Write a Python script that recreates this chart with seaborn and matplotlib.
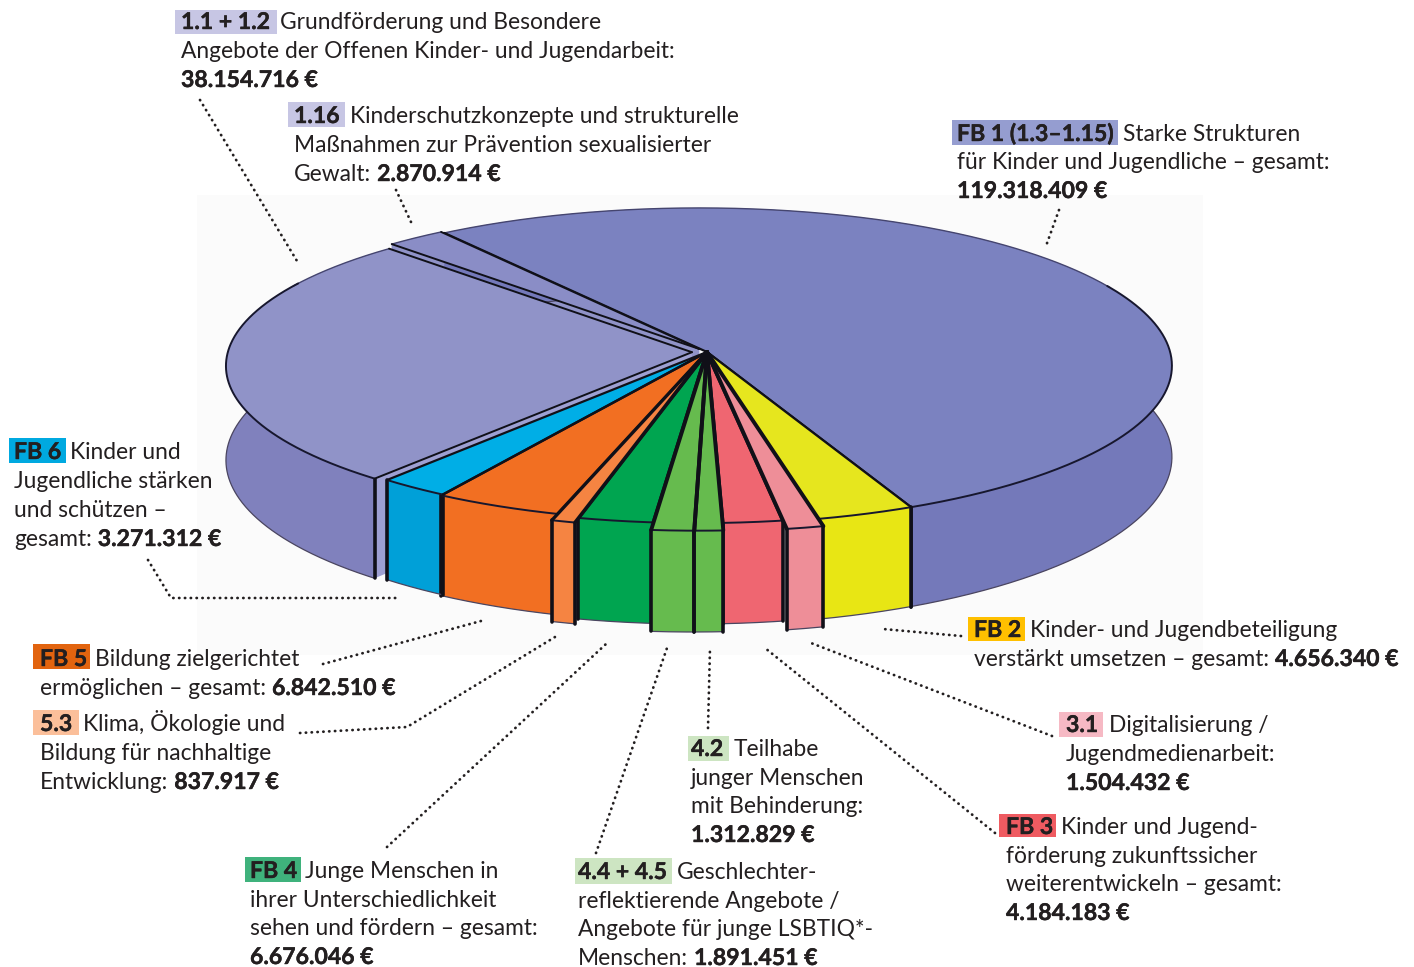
import numpy as np
import seaborn as sns
import matplotlib
matplotlib.use('Agg')
import matplotlib.pyplot as plt
import matplotlib.patheffects as pe
from matplotlib.patches import Polygon, Rectangle
from matplotlib.transforms import Transform

# Amounts printed in the labels (euro)
amount_1_1 = 38154716
amount_1_16 = 2870914
amount_fb1 = 119318409
amount_fb2 = 4656340
amount_3_1 = 1504432
amount_fb3 = 4184183
amount_4_2 = 1312829
amount_4_4 = 1891451
amount_fb4 = 6676046
amount_5_3 = 837917
amount_fb5 = 6842510
amount_fb6 = 3271312

# Slices clockwise, starting at the edge between 1.16 and FB 1.
# The picture does not draw them in proportion to the euros, so the sizes
# are the opening angles.
slice_names = ['FB 1', 'FB 2', '3.1', 'FB 3', '4.2', '4.4 + 4.5', 'FB 4', '5.3', 'FB 5', 'FB 6', '1.1 + 1.2', '1.16']
slice_angles = [192.6, 11.1, 4.0, 6.8, 3.1, 4.6, 8.5, 2.6, 14.6, 8.1, 95.9, 8.0]
slice_radius = [1.0, 1.0, 1.04, 0.995, 1.035, 1.035, 0.995, 1.02, 0.985, 0.98, 0.968, 0.985]
slice_explode = [0, 0, 0, 0, 0, 0, 0, 0, 0, 0, 0.032, 0.025]
top_colors = ['#7b82c0', '#e6e61e', '#ee8e98', '#ef6671', '#66bb4e', '#66bb4e', '#00a550', '#f58442', '#f26f22', '#00aee6', '#9093c8', '#8a8dc6']
side_colors = ['#7479ba', '#e8e614', '#ee8e98', '#ef6671', '#66bb4e', '#66bb4e', '#00a550', '#f58442', '#f26f22', '#00a0d8', '#8081bd', '#8a8dc6']
line_widths = [1.6, 1.6, 2.8, 2.8, 2.8, 2.8, 2.8, 2.4, 1.8, 1.6, 1.4, 1.4]

INK = '#231f20'
CX, CY = 707, 352
A, B = 471, 156.8
K, M = 0.0885, 0.017
DEPTH = 92


class Tilt(Transform):
    # unit disc of the pie to pixel positions of the tilted disc
    input_dims = 2
    output_dims = 2
    is_separable = False
    has_inverse = False

    def __init__(self, drop=0):
        super().__init__()
        self.drop = drop

    def transform_non_affine(self, values):
        values = np.asarray(values, dtype=float)
        u, v = values[:, 0], values[:, 1]
        w = 1 + K * v + M * u
        return np.column_stack([CX + A * u / w, CY - B * v / w + self.drop / w])


def euro(x):
    return f'{x:,}'.replace(',', '.') + ' €'


sns.set_theme(style='white')
plt.rcParams['font.family'] = ['Lato', 'DejaVu Sans']

fig = plt.figure(figsize=(14.14, 9.67), dpi=100)
ax = fig.add_axes([0, 0, 1, 1])

wedges, _ = ax.pie(slice_angles, colors=sns.color_palette(top_colors), startangle=126.3, counterclock=False,
                   explode=slice_explode, wedgeprops=dict(linewidth=0))
ax.set_aspect('auto')
ax.set_xlim(0, 1414)
ax.set_ylim(967, 0)
sns.despine(ax=ax, left=True, bottom=True)

ax.add_patch(Rectangle((197, 195), 1006, 460, facecolor='#fbfbfb', edgecolor='none', zorder=0))

top = Tilt(0)
bottom = Tilt(DEPTH)
# who covers whom: back and big slices first, pushed out slices last
z_of = {'1.16': 3, 'FB 1': 2, '1.1 + 1.2': 2.5, 'FB 6': 4, 'FB 5': 4, 'FB 4': 4, 'FB 3': 4, 'FB 2': 4,
        '5.3': 5, '4.2': 5, '4.4 + 4.5': 5, '3.1': 5}

for name, w, r, col, sc, lw in zip(slice_names, wedges, slice_radius, top_colors, side_colors, line_widths):
    z = z_of[name]
    w.set_radius(r)
    w.set_transform(top + ax.transData)
    w.set_zorder(z + 0.2)

    t = np.radians(np.linspace(w.theta1, w.theta2, 400))
    rim = np.column_stack([w.center[0] + r * np.cos(t), w.center[1] + r * np.sin(t)])
    mid = np.asarray(w.center)[None, :]
    rim_top = top.transform(rim)
    rim_low = bottom.transform(rim)

    # outer wall, the one of 1.16 stays hidden behind the top faces
    wall_z = 1 if name == '1.16' else z
    ax.add_patch(Polygon(np.vstack([rim_top, rim_low[::-1]]), facecolor=sc, edgecolor='none', zorder=wall_z))
    if name != '1.16':
        ax.plot(rim_low[:, 0], rim_low[:, 1], color='#4a4560', lw=0.9, zorder=wall_z + 0.1)

    # outlines of the top face: rim thin at the back, heavier at the front
    ax.plot(np.where(rim[:, 1] > 0.43, rim_top[:, 0], np.nan), rim_top[:, 1], color='#45456f', lw=1.0, zorder=z + 0.3)
    ax.plot(np.where(rim[:, 1] > 0.45, np.nan, rim_top[:, 0]), rim_top[:, 1], color='#17172e', lw=1.4, zorder=z + 0.3)
    for end in (rim[:1], rim[-1:]):
        ray = top.transform(np.vstack([mid, end]))
        ax.plot(ray[:, 0], ray[:, 1], color='#101018', lw=lw, zorder=z + 0.3, solid_capstyle='round')
        # edge of the wall, only on the near side
        if end[0, 1] < 0:
            a, b = top.transform(end)[0], bottom.transform(end)[0]
            ax.plot([a[0], b[0]], [a[1], b[1]], color='#101018', lw=2.6, zorder=z + 0.1)

    # cut faces that show because the slice is moved away from the centre
    if name == '1.1 + 1.2':
        c = rim[-1:]
        face = np.vstack([top.transform(c), bottom.transform(c), bottom.transform(mid), top.transform(mid)])
        ax.add_patch(Polygon(face, facecolor='#9ea0d2', edgecolor='none', zorder=z - 0.1))
    if name == '1.16':
        c = rim[-1:]
        face = np.vstack([top.transform(c), top.transform(mid), bottom.transform(mid), bottom.transform(c)])
        ax.add_patch(Polygon(face, facecolor='#9093c8', edgecolor='none', zorder=1.5))


def leader(*pts):
    xs, ys = zip(*pts)
    ax.plot(xs, ys, color=INK, lw=2, linestyle=(0, (0.1, 2.0)), dash_capstyle='round', zorder=8)


def words(x, y, s, bold=False):
    t = ax.text(x, y, s, fontsize=16.6 if bold else 16.35, color=INK, va='baseline', ha='left', zorder=10,
                fontweight='bold' if bold else 'normal')
    if bold:
        t.set_path_effects([pe.withStroke(linewidth=0.3, foreground=INK)])
    return t.get_window_extent(fig.canvas.get_renderer()).x1


def label(box, tx, y, tag, color, next_x, rest, pitch=29):
    # box = left, right, top, bottom of the highlight behind the tag
    ax.add_patch(Rectangle((box[0], box[2]), box[1] - box[0], box[3] - box[2], facecolor=color, edgecolor='none', zorder=9))
    words(tx, y, tag, True)
    words(next_x, y, rest[0][0])
    for i, line in enumerate(rest[1:], 1):
        x = tx
        yy = y + round(i * pitch)
        for part, bold in line:
            x = words(x, yy, part, bold) + 6


label((175, 277, 10, 34), 181, 29, '1.1 + 1.2', '#c7c6e4', 280, [('Grundförderung und Besondere',),
      [('Angebote der Offenen Kinder- und Jugendarbeit:', False)], [(euro(amount_1_1), True)]])
label((288, 345, 102, 127), 294, 123, '1.16', '#c7c6e4', 350, [('Kinderschutzkonzepte und strukturelle',),
      [('Maßnahmen zur Prävention sexualisierter', False)], [('Gewalt:', False), (euro(amount_1_16), True)]])
label((952, 1118, 120, 145), 957, 141, 'FB 1 (1.3–1.15)', '#959dd0', 1123, [('Starke Strukturen',),
      [('für Kinder und Jugendliche – gesamt:', False)], [(euro(amount_fb1), True)]], pitch=28.5)
label((968, 1025, 617, 641), 974, 637, 'FB 2', '#ffc000', 1030, [('Kinder- und Jugendbeteiligung',),
      [('verstärkt umsetzen – gesamt:', False), (euro(amount_fb2), True)]])
label((1059, 1103, 712, 737), 1066, 732, '3.1', '#f6b9c4', 1109, [('Digitalisierung /',),
      [('Jugendmedienarbeit:', False)], [(euro(amount_3_1), True)]])
label((999, 1056, 814, 837), 1006, 834, 'FB 3', '#ef5b61', 1061, [('Kinder und Jugend-',),
      [('förderung zukunftssicher', False)], [('weiterentwickeln – gesamt:', False)], [(euro(amount_fb3), True)]], pitch=28.7)
label((688, 729, 736, 761), 691, 756, '4.2', '#cde5c2', 734, [('Teilhabe',),
      [('junger Menschen', False)], [('mit Behinderung:', False)], [(euro(amount_4_2), True)]], pitch=28.7)
label((575, 672, 858, 884), 578, 879, '4.4 + 4.5', '#cde5c2', 677, [('Geschlechter-',),
      [('reflektierende Angebote /', False)], [('Angebote für junge LSBTIQ*-', False)],
      [('Menschen:', False), (euro(amount_4_4), True)]], pitch=28.7)
label((245, 301, 857, 882), 250, 878, 'FB 4', '#3fb27c', 305, [('Junge Menschen in',),
      [('ihrer Unterschiedlichkeit', False)], [('sehen und fördern – gesamt:', False)], [(euro(amount_fb4), True)]], pitch=28.7)
label((33, 79, 710, 735), 40, 731, '5.3', '#fbbf9a', 83, [('Klima, Ökologie und',),
      [('Bildung für nachhaltige', False)], [('Entwicklung:', False), (euro(amount_5_3), True)]])
label((33, 90, 644, 669), 40, 666, 'FB 5', '#e2640f', 95, [('Bildung zielgerichtet',),
      [('ermöglichen – gesamt:', False), (euro(amount_fb5), True)]])
label((9, 66, 438, 463), 14, 459, 'FB 6', '#00a9e0', 70, [('Kinder und',),
      [('Jugendliche stärken', False)], [('und schützen –', False)], [('gesamt:', False), (euro(amount_fb6), True)]])

leader((200, 100), (297, 261))
leader((396, 190), (411, 222))
leader((1059, 210), (1046, 246))
leader((148, 560), (171, 598), (400, 598))
leader((323, 664), (481, 621))
leader((300, 733), (407, 727), (555, 637))
leader((387, 847), (606, 644))
leader((596, 853), (667, 648))
leader((708, 728), (710, 648))
leader((995, 833), (765, 648))
leader((1052, 736), (811, 643))
leader((961, 636), (883, 629))

ax.set_xlim(0, 1414)
ax.set_ylim(967, 0)
fig.savefig('out.png', dpi=100)
